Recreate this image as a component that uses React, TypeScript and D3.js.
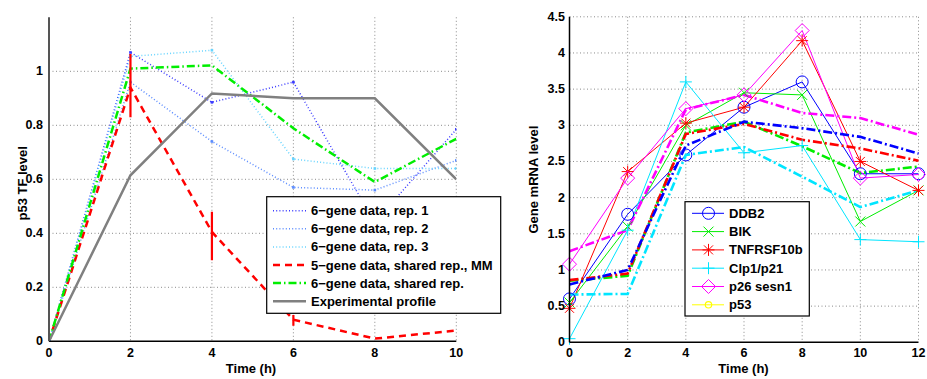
import React from "react";
import * as d3 from "d3";

// ---------- Left panel data ----------
const leftTimes = [0, 2, 4, 6, 8, 10];
const rep1 = [0, 1.07, 0.885, 0.96, 0.44, 0.785];
const rep2 = [0, 0.96, 0.74, 0.57, 0.56, 0.67];
const rep3 = [0, 1.055, 1.078, 0.675, 0.64, 0.64];
const sharedMM = [0, 0.94, 0.405, 0.08, 0.01, 0.04];
const errTimes = [2, 4, 6];
const errLow = [0.83, 0.3, 0.058];
const errHigh = [1.064, 0.48, 0.097];
const sharedRep = [0, 1.01, 1.022, 0.789, 0.59, 0.75];
const experimental = [0, 0.615, 0.918, 0.9, 0.9, 0.6];
const leftYTicks = [0, 0.2, 0.4, 0.6, 0.8, 1];
const leftXTicks = [0, 2, 4, 6, 8, 10];
const leftLegend = [
  "6\u2212gene data, rep. 1",
  "6\u2212gene data, rep. 2",
  "6\u2212gene data, rep. 3",
  "5\u2212gene data, shared rep., MM",
  "6\u2212gene data, shared rep.",
  "Experimental profile",
];

// ---------- Right panel data ----------
const rightTimes = [0, 2, 4, 6, 8, 10, 12];
const ddb2 = [0.6, 1.77, 2.59, 3.25, 3.6, 2.33, 2.33];
const bik = [0.55, 1.6, 3.0, 3.45, 3.42, 1.67, 2.1];
const tnf = [0.47, 2.36, 3.03, 3.25, 4.17, 2.5, 2.1];
const clp = [0.05, 1.55, 3.6, 2.62, 2.72, 1.42, 1.39];
const p26 = [1.08, 2.27, 3.23, 3.42, 4.31, 2.27, 2.32];
const p53: number[] = [];
const fitDdb2 = [0.8, 1.0, 2.72, 3.05, 2.96, 2.84, 2.61];
const fitBik = [0.85, 0.92, 2.9, 3.05, 2.71, 2.34, 2.43];
const fitTnf = [0.86, 0.95, 2.88, 3.02, 2.8, 2.68, 2.51];
const fitClp = [0.66, 0.67, 2.59, 2.7, 2.29, 1.87, 2.1];
const fitP26 = [1.26, 1.55, 3.22, 3.42, 3.17, 3.1, 2.87];
const rightYTicks = [0, 0.5, 1, 1.5, 2, 2.5, 3, 3.5, 4, 4.5];
const rightXTicks = [0, 2, 4, 6, 8, 10, 12];
const rightLegend = ["DDB2", "BIK", "TNFRSF10b", "Clp1/p21", "p26 sesn1", "p53"];

const FONT = "'Liberation Sans', Arial, Helvetica, sans-serif";
const GRID = "#8a8a8a";

type MarkerKind = "circle" | "x" | "star" | "plus" | "diamond" | "dot";

function Marker({ kind, x, y, color }: { kind: MarkerKind; x: number; y: number; color: string }) {
  const s = 5;
  if (kind === "circle") return <circle cx={x} cy={y} r={6} fill="none" stroke={color} strokeWidth={1} />;
  if (kind === "dot") return <circle cx={x} cy={y} r={3.2} fill="none" stroke={color} strokeWidth={1.2} />;
  if (kind === "x")
    return (
      <path d={`M${x - s},${y - s}L${x + s},${y + s}M${x - s},${y + s}L${x + s},${y - s}`} stroke={color} strokeWidth={1} />
    );
  if (kind === "plus")
    return <path d={`M${x - 6},${y}L${x + 6},${y}M${x},${y - 6}L${x},${y + 6}`} stroke={color} strokeWidth={1} />;
  if (kind === "star")
    return (
      <path
        d={`M${x - 6},${y}L${x + 6},${y}M${x},${y - 6}L${x},${y + 6}M${x - 4.5},${y - 4.5}L${x + 4.5},${y + 4.5}M${x - 4.5},${y + 4.5}L${x + 4.5},${y - 4.5}`}
        stroke={color}
        strokeWidth={1}
      />
    );
  return <path d={`M${x},${y - 7}L${x + 7},${y}L${x},${y + 7}L${x - 7},${y}Z`} fill="none" stroke={color} strokeWidth={1} />;
}

export default function App() {
  // Left scales
  const lx = d3.scaleLinear().domain([0, 10]).range([49, 456.3]);
  const ly = d3.scaleLinear().domain([0, 1.2]).range([341.3, 17.3]);
  const lline = d3
    .line<number>()
    .x((_, i) => lx(leftTimes[i]))
    .y((d) => ly(d));

  // Right scales
  const rx = d3.scaleLinear().domain([0, 12]).range([569.5, 918.5]);
  const ry = d3.scaleLinear().domain([0, 4.5]).range([342.3, 16.8]);
  const rline = d3
    .line<number>()
    .x((_, i) => rx(rightTimes[i]))
    .y((d) => ry(d));

  const leftSeries = [
    { data: rep1, color: "#3b3bff", width: 1.5, dash: "1 2.2", dots: true },
    { data: rep2, color: "#5b8cff", width: 1.5, dash: "1 2.2", dots: true },
    { data: rep3, color: "#66d4ff", width: 1.5, dash: "1 2.2", dots: true },
    { data: sharedMM, color: "#ff0000", width: 2.5, dash: "7 5", dots: false },
    { data: sharedRep, color: "#00ee00", width: 2.5, dash: "8 3 1.5 3", dots: false },
    { data: experimental, color: "#808080", width: 2.5, dash: "", dots: false },
  ];

  const rightSolid: { data: number[]; color: string; marker: MarkerKind }[] = [
    { data: ddb2, color: "#0000ff", marker: "circle" },
    { data: bik, color: "#00ee00", marker: "x" },
    { data: tnf, color: "#ff0000", marker: "star" },
    { data: clp, color: "#00e5ff", marker: "plus" },
    { data: p26, color: "#ff00ff", marker: "diamond" },
    { data: p53, color: "#ffff00", marker: "dot" },
  ];
  const rightFits = [
    { data: fitP26, color: "#ff00ff" },
    { data: fitClp, color: "#00e5ff" },
    { data: fitBik, color: "#00ee00" },
    { data: fitTnf, color: "#ff0000" },
    { data: fitDdb2, color: "#0000ff" },
  ];

  const tickStyle = { fontFamily: FONT, fontSize: 12.5, fontWeight: 700, fill: "#000" } as const;
  const legendText = { fontFamily: FONT, fontSize: 13, fontWeight: 700, fill: "#000" } as const;

  return (
    <svg width={927} height={379} style={{ position: "absolute", left: 0, top: 0, background: "#fff" }}>
      <defs>
        <clipPath id="clipL">
          <rect x={lx(0)} y={ly(1.2)} width={lx(10) - lx(0)} height={ly(0) - ly(1.2)} />
        </clipPath>
        <clipPath id="clipR">
          <rect x={rx(0)} y={ry(4.5) - 8} width={rx(12) - rx(0) + 8} height={ry(0) - ry(4.5) + 8} />
        </clipPath>
      </defs>
      <rect x={0} y={0} width={927} height={379} fill="#fff" />

      {/* ---------- LEFT PANEL ---------- */}
      <g>
        {leftXTicks.slice(1).map((t) => (
          <line key={"lgx" + t} x1={lx(t)} x2={lx(t)} y1={ly(1.2)} y2={ly(0)} stroke={GRID} strokeWidth={1} strokeDasharray="1 2.5" />
        ))}
        {leftYTicks.slice(1).map((t) => (
          <line key={"lgy" + t} x1={lx(0)} x2={lx(10)} y1={ly(t)} y2={ly(t)} stroke={GRID} strokeWidth={1} strokeDasharray="1 2.5" />
        ))}
        <g clipPath="url(#clipL)">
          {leftSeries.map((s, i) => (
            <path
              key={"ls" + i}
              d={lline(s.data) || ""}
              fill="none"
              stroke={s.color}
              strokeWidth={s.width}
              strokeDasharray={s.dash || undefined}
            />
          ))}
          {leftSeries
            .filter((s) => s.dots)
            .map((s, i) =>
              s.data.map((v, j) => (
                <rect key={`ld${i}-${j}`} x={lx(leftTimes[j]) - 1.3} y={ly(v) - 1.3} width={2.6} height={2.6} fill={s.color} />
              ))
            )}
          {errTimes.map((t, i) => (
            <line key={"err" + i} x1={lx(t)} x2={lx(t)} y1={ly(errLow[i])} y2={ly(errHigh[i])} stroke="#ff0000" strokeWidth={2.2} />
          ))}
        </g>
        <line x1={lx(0)} x2={lx(10)} y1={ly(0)} y2={ly(0)} stroke="#000" strokeWidth={1.5} />
        <line x1={lx(0)} x2={lx(0)} y1={ly(1.2)} y2={ly(0)} stroke="#555" strokeWidth={2} />
        {leftYTicks.map((t) => (
          <text key={"lyt" + t} x={43} y={ly(t)} textAnchor="end" dominantBaseline="central" style={tickStyle}>
            {t}
          </text>
        ))}
        {leftXTicks.map((t) => (
          <text key={"lxt" + t} x={lx(t)} y={357} textAnchor="middle" style={tickStyle}>
            {t}
          </text>
        ))}
        <text x={251} y={373} textAnchor="middle" style={{ ...tickStyle, fontSize: 13 }}>
          Time (h)
        </text>
        <text transform={`translate(27,${(ly(0) + ly(1.2)) / 2 + 4}) rotate(-90)`} textAnchor="middle" style={{ ...tickStyle, fontSize: 13 }}>
          p53 TF level
        </text>

        {/* legend */}
        <rect x={266.7} y={196.7} width={234} height={116.6} fill="#fff" stroke="#000" strokeWidth={1.2} />
        {leftLegend.map((label, i) => {
          const y = 210.7 + i * 18.1;
          const s = leftSeries[i];
          return (
            <g key={"ll" + i}>
              <line x1={273} x2={306} y1={y} y2={y} stroke={s.color} strokeWidth={s.width} strokeDasharray={s.dash || undefined} />
              <text x={311} y={y} dominantBaseline="central" style={legendText}>
                {label}
              </text>
            </g>
          );
        })}
      </g>

      {/* ---------- RIGHT PANEL ---------- */}
      <g>
        {rightXTicks.slice(1).map((t) => (
          <line key={"rgx" + t} x1={rx(t)} x2={rx(t)} y1={ry(4.5)} y2={ry(0)} stroke={GRID} strokeWidth={1} strokeDasharray="1 2.5" />
        ))}
        {rightYTicks.slice(1).map((t) => (
          <line key={"rgy" + t} x1={rx(0)} x2={rx(12)} y1={ry(t)} y2={ry(t)} stroke={GRID} strokeWidth={1} strokeDasharray="1 2.5" />
        ))}
        <g>
          {rightSolid.map((s, i) =>
            s.data.length ? (
              <path key={"rs" + i} d={rline(s.data) || ""} fill="none" stroke={s.color} strokeWidth={1} />
            ) : null
          )}
          {rightFits.map((s, i) => (
            <path key={"rf" + i} d={rline(s.data) || ""} fill="none" stroke={s.color} strokeWidth={2.6} strokeDasharray="9 3 2 3" />
          ))}
          {rightSolid.map((s, i) =>
            s.data.map((v, j) => <Marker key={`rm${i}-${j}`} kind={s.marker} x={rx(rightTimes[j])} y={ry(v)} color={s.color} />)
          )}
        </g>
        <line x1={rx(0)} x2={rx(12)} y1={ry(0)} y2={ry(0)} stroke="#000" strokeWidth={1.5} />
        <line x1={rx(0)} x2={rx(0)} y1={ry(4.5)} y2={ry(0)} stroke="#000" strokeWidth={1.5} />
        {rightYTicks.map((t) => (
          <text key={"ryt" + t} x={565} y={ry(t)} textAnchor="end" dominantBaseline="central" style={tickStyle}>
            {t}
          </text>
        ))}
        {rightXTicks.map((t) => (
          <text key={"rxt" + t} x={rx(t)} y={357} textAnchor="middle" style={tickStyle}>
            {t}
          </text>
        ))}
        <text x={743.5} y={373} textAnchor="middle" style={{ ...tickStyle, fontSize: 13 }}>
          Time (h)
        </text>
        <text transform={`translate(538,${(ry(0) + ry(4.5)) / 2}) rotate(-90)`} textAnchor="middle" style={{ ...tickStyle, fontSize: 13 }}>
          Gene mRNA level
        </text>

        {/* legend */}
        <rect x={685} y={201.7} width={124.3} height={114.3} fill="#fff" stroke="#000" strokeWidth={1.2} />
        {rightLegend.map((label, i) => {
          const y = 213.3 + i * 18.3;
          const s = rightSolid[i];
          return (
            <g key={"rl" + i}>
              <line x1={692} x2={724} y1={y} y2={y} stroke={s.color} strokeWidth={1} />
              <Marker kind={s.marker} x={708.5} y={y} color={s.color} />
              <text x={729} y={y} dominantBaseline="central" style={legendText}>
                {label}
              </text>
            </g>
          );
        })}
      </g>
    </svg>
  );
}
